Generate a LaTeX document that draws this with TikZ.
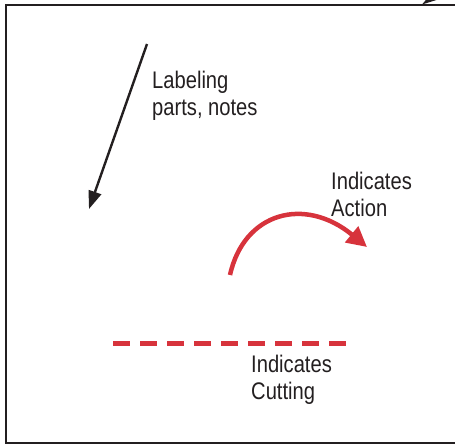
\documentclass[tikz,border=0pt]{standalone}
\usepackage{fontspec}
\setmainfont{Liberation Sans}[FakeStretch=0.84]
\usetikzlibrary{arrows.meta}
\definecolor{ink}{HTML}{231F20}
\definecolor{redink}{HTML}{D7333C}
\tikzset{
  lbl/.style={anchor=base west, align=left, inner sep=0pt, text=ink,
    font=\fontsize{24}{27}\selectfont},
  frameline/.style={draw=ink, line width=2.5pt},
  blackarrow/.style={draw=ink, line width=2.4pt, -{Triangle[length=18pt,width=13pt]}},
  redarrow/.style={draw=redink, line width=4.5pt, -{Triangle[length=20pt,width=20pt]}},
  cutline/.style={draw=redink, line width=5pt, dash pattern=on 17pt off 10pt},
}
\begin{document}
\begin{tikzpicture}[x=1pt,y=-1pt]
\useasboundingbox (0,0) rectangle (455,445);
% frame
\draw[frameline] (475,5) -- (6,5) -- (6,443) -- (475,443);
% fragment of an arrow at top right
\fill[ink] (422,4.5) -- (446,-3) -- (437,-13) -- cycle;
% labeling arrow
\coordinate (a1) at (147,44);
\coordinate (a2) at (89,209);
\draw[blackarrow] (a1) -- (a2);
\node[lbl] (t1) at (152,115) {Labeling\\parts, notes};
% action arrow
\coordinate (b1) at (230,275);
\coordinate (b2) at (367,247);
\draw[redarrow] (b1) .. controls (244,212) and (305,196) .. (b2);
\node[lbl] (t2) at (331,216) {Indicates\\Action};
% cutting line
\coordinate (c1) at (113,343);
\coordinate (c2) at (347,343);
\draw[cutline] (c1) -- (c2);
\node[lbl] (t3) at (251,399) {Indicates\\Cutting};
\end{tikzpicture}
\end{document}
